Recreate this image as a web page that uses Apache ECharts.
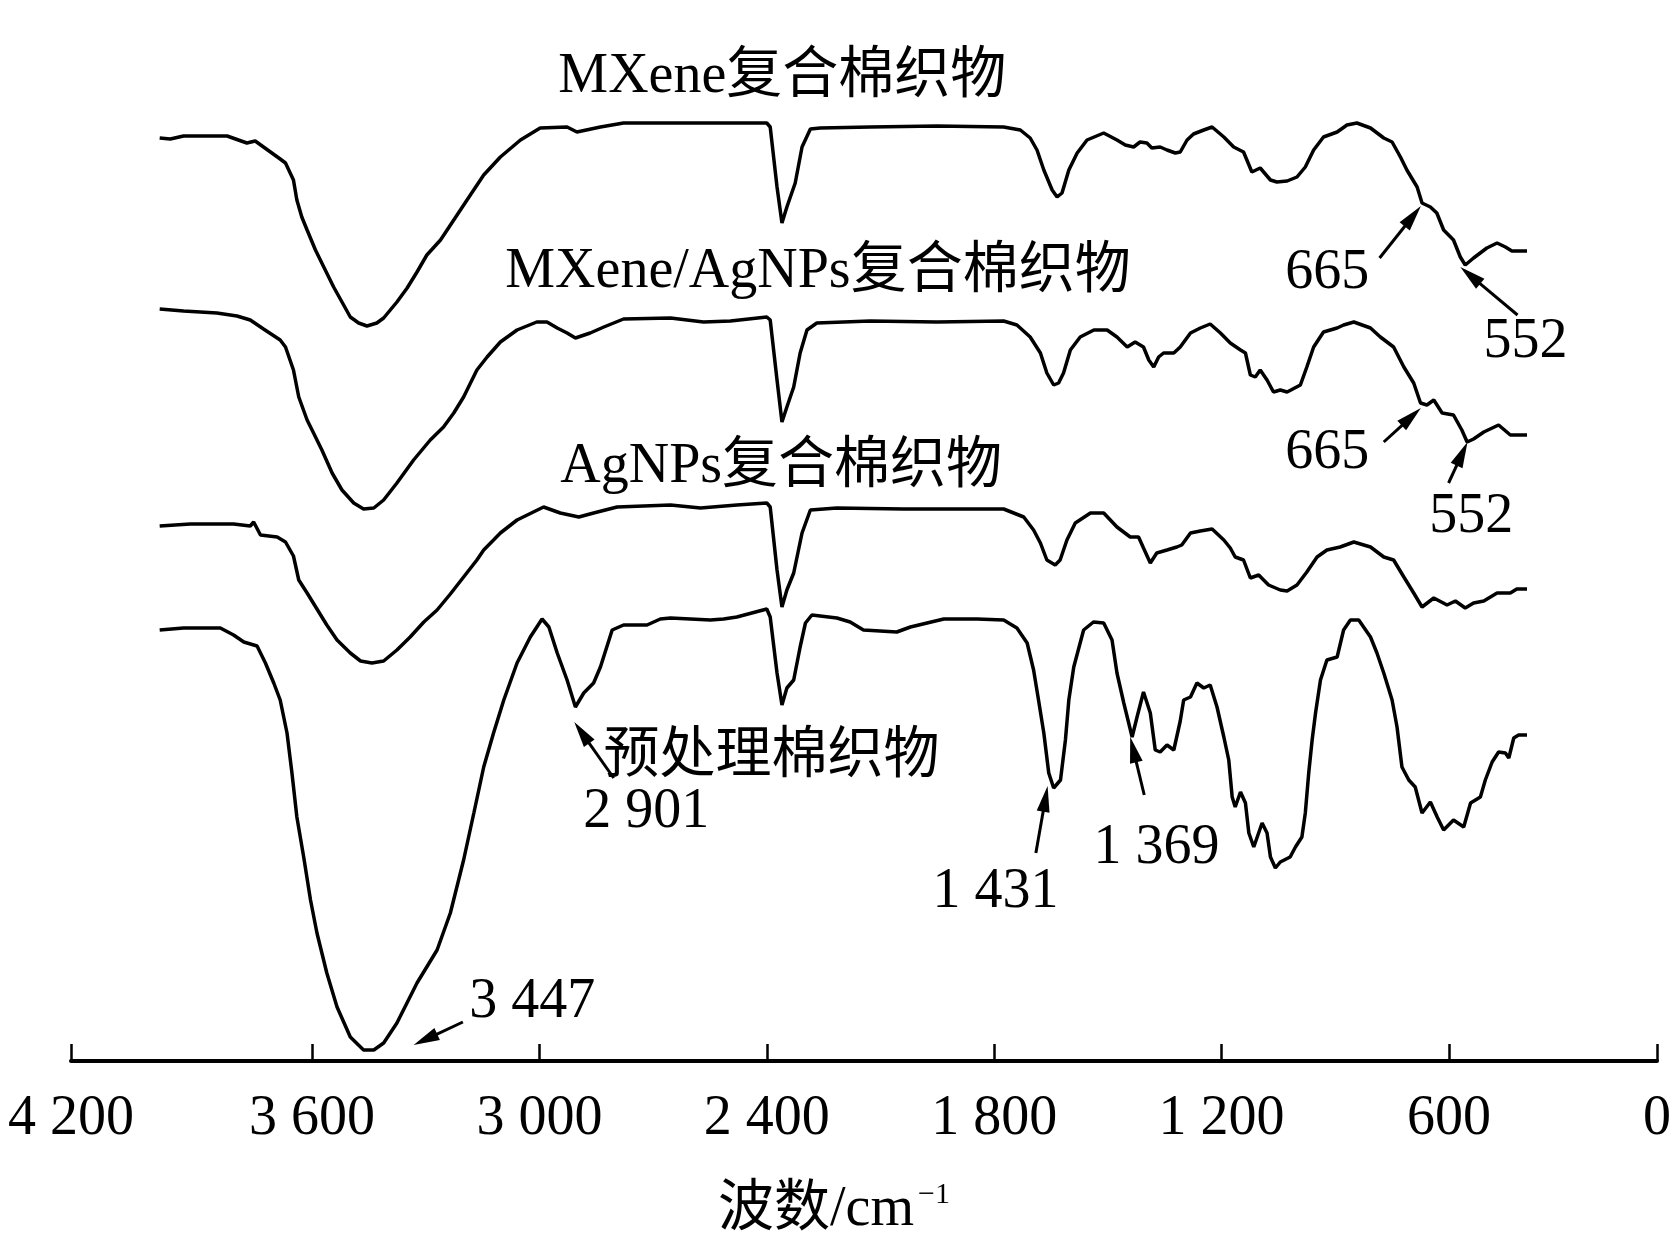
<!DOCTYPE html>
<html>
<head>
<meta charset="utf-8">
<script src="https://cdn.jsdelivr.net/npm/echarts@6.0.0/dist/echarts.min.js"></script>
<style>
html,body{margin:0;padding:0;background:#fff;}
#main{width:1678px;height:1242px;}
</style>
</head>
<body>
<div id="main"></div>
<script>
/* 红外光谱数据 [波数, 相对透过率(偏移后)] */
var mxene = [[4002,92.3],[3974,92.2],[3939,92.5],[3824,92.5],[3772,91.8],[3750,92.0],[3684,90.2],[3670,89.8],[3649,88.1],[3640,86.1],[3627,84.4],[3613,83.1],[3591,81.1],[3569,79.4],[3543,77.4],[3521,75.9],[3499,74.4],[3477,73.8],[3455,73.5],[3429,73.8],[3411,74.3],[3376,75.9],[3349,77.3],[3323,78.9],[3297,80.6],[3261,82.1],[3226,84.1],[3191,86.1],[3147,88.6],[3103,90.4],[3050,92.1],[2998,93.3],[2927,93.4],[2901,92.9],[2839,93.4],[2778,93.8],[2654,93.8],[2400,93.8],[2391,93.4],[2373,87.4],[2360,83.8],[2347,85.4],[2325,87.8],[2307,91.4],[2285,93.2],[2259,93.3],[2127,93.4],[1951,93.5],[1775,93.4],[1731,93.1],[1705,92.3],[1687,91.1],[1669,89.1],[1647,87.1],[1634,86.4],[1621,86.8],[1603,89.1],[1581,90.8],[1555,92.1],[1511,92.8],[1476,92.1],[1454,91.6],[1432,91.4],[1415,91.9],[1397,91.8],[1384,91.3],[1362,91.4],[1344,91.1],[1322,90.8],[1309,90.9],[1291,92.1],[1274,92.7],[1247,93.1],[1225,93.4],[1194,92.4],[1168,91.4],[1142,90.9],[1120,88.9],[1098,89.3],[1071,88.1],[1054,87.9],[1027,88.0],[1001,88.4],[979,89.4],[957,91.1],[931,92.4],[895,92.9],[869,93.6],[843,93.8],[807,93.3],[772,92.3],[750,91.9],[728,90.4],[711,89.1],[684,87.4],[671,85.8],[649,85.4],[632,84.8],[614,83.1],[588,82.1],[570,80.4],[557,79.6],[535,80.3],[500,81.3],[473,81.8],[451,81.4],[434,81.0],[394,81.0]];

var mxeneAg = [[4002,75.2],[3939,75.0],[3851,74.8],[3798,74.5],[3763,74.1],[3728,73.2],[3684,72.1],[3670,71.4],[3649,69.1],[3635,66.4],[3613,64.1],[3596,62.8],[3574,61.1],[3547,58.8],[3521,57.1],[3490,55.8],[3464,55.2],[3437,55.3],[3411,56.1],[3376,57.8],[3332,60.1],[3288,62.1],[3253,63.4],[3226,64.8],[3200,66.4],[3165,69.1],[3138,70.4],[3103,71.9],[3059,73.1],[3007,73.9],[2980,73.9],[2953,73.3],[2927,72.8],[2905,72.3],[2866,72.8],[2830,73.4],[2778,74.2],[2654,74.3],[2567,73.9],[2496,74.0],[2400,74.4],[2391,74.1],[2373,68.1],[2360,63.9],[2347,65.4],[2329,67.4],[2312,70.8],[2294,73.1],[2268,73.8],[2127,74.0],[1951,73.9],[1775,74.0],[1740,73.6],[1705,72.4],[1678,70.8],[1661,68.8],[1643,67.6],[1630,67.8],[1617,68.8],[1599,71.1],[1573,72.4],[1537,73.1],[1502,73.1],[1476,72.4],[1449,71.4],[1428,71.9],[1406,71.4],[1392,70.1],[1379,69.4],[1366,70.4],[1353,70.8],[1326,70.8],[1309,71.4],[1282,72.8],[1256,73.3],[1230,73.7],[1203,72.8],[1177,71.8],[1150,71.1],[1137,70.8],[1124,68.6],[1111,68.4],[1098,69.1],[1080,68.1],[1063,66.9],[1045,67.1],[1027,66.9],[992,67.6],[975,69.4],[957,71.4],[931,72.9],[895,73.3],[878,73.6],[851,73.9],[807,73.3],[781,72.4],[746,71.4],[719,69.4],[693,67.8],[675,65.8],[658,65.6],[640,66.1],[618,64.8],[588,64.6],[566,63.1],[552,61.9],[535,62.2],[508,62.9],[469,63.6],[438,62.6],[394,62.6]];

var agnps = [[4002,53.5],[3921,53.7],[3807,53.7],[3763,53.5],[3754,53.9],[3736,52.6],[3692,52.4],[3670,51.9],[3649,50.5],[3635,48.1],[3613,46.8],[3587,45.2],[3561,43.6],[3534,42.1],[3499,40.8],[3472,40.0],[3442,39.8],[3411,40.0],[3376,41.1],[3341,42.4],[3305,43.9],[3270,45.1],[3235,46.7],[3200,48.4],[3165,50.1],[3147,51.1],[3121,52.1],[3103,52.8],[3059,54.1],[2989,55.4],[2945,54.8],[2896,54.4],[2857,54.8],[2795,55.4],[2725,55.5],[2654,55.6],[2575,55.3],[2479,55.6],[2400,55.8],[2391,55.4],[2373,49.1],[2360,45.4],[2347,47.1],[2329,48.8],[2307,52.8],[2285,55.1],[2215,55.3],[2039,55.2],[1775,55.2],[1722,54.4],[1696,53.1],[1678,51.8],[1661,50.1],[1639,49.6],[1626,50.1],[1608,52.1],[1586,53.8],[1546,54.8],[1511,54.8],[1476,53.4],[1441,52.4],[1419,52.4],[1406,51.3],[1388,49.8],[1371,50.8],[1344,51.1],[1318,51.4],[1305,51.6],[1282,52.8],[1256,53.0],[1225,53.2],[1194,52.1],[1177,51.3],[1164,50.4],[1142,50.1],[1124,48.3],[1102,48.6],[1076,47.6],[1045,47.1],[1027,47.0],[1001,47.6],[975,48.9],[948,50.4],[922,51.1],[887,51.4],[851,51.9],[807,51.4],[772,50.4],[746,50.1],[719,48.4],[693,46.8],[671,45.4],[640,46.3],[605,45.6],[583,46.0],[557,45.3],[535,45.8],[508,46.0],[473,46.8],[438,46.8],[421,47.2],[394,47.2]];

var pretreat = [[4002,43.1],[3939,43.3],[3842,43.3],[3807,42.6],[3780,41.9],[3745,41.5],[3723,39.8],[3701,37.8],[3684,36.1],[3666,32.8],[3653,28.8],[3640,24.4],[3622,20.4],[3604,16.1],[3587,12.8],[3561,8.8],[3534,5.4],[3499,2.4],[3464,1.1],[3437,1.1],[3411,1.8],[3376,3.8],[3323,7.8],[3270,11.1],[3235,14.8],[3200,20.1],[3173,24.8],[3147,29.4],[3121,32.8],[3094,36.1],[3059,39.8],[3024,42.4],[2993,44.2],[2975,43.4],[2953,40.8],[2927,38.1],[2905,35.4],[2883,36.8],[2857,37.8],[2839,39.4],[2808,43.1],[2778,43.6],[2716,43.6],[2681,44.2],[2654,44.3],[2549,44.1],[2514,44.2],[2479,44.4],[2400,45.2],[2391,44.4],[2373,38.8],[2360,35.6],[2347,37.3],[2329,38.1],[2312,41.4],[2298,43.8],[2281,44.6],[2215,44.3],[2180,43.9],[2145,43.1],[2057,42.9],[2021,43.4],[1933,44.2],[1845,44.2],[1775,44.1],[1740,43.3],[1713,41.8],[1696,39.1],[1683,36.1],[1669,32.8],[1656,28.8],[1643,27.3],[1625,28.1],[1612,32.1],[1603,36.1],[1590,39.4],[1564,43.1],[1538,43.9],[1511,43.8],[1489,42.1],[1476,38.8],[1458,35.8],[1436,32.4],[1423,34.4],[1406,36.9],[1388,34.8],[1375,31.1],[1362,30.9],[1344,31.6],[1326,31.1],[1309,34.0],[1300,36.1],[1282,36.4],[1265,37.8],[1247,37.3],[1230,37.6],[1212,35.4],[1194,32.4],[1181,30.1],[1172,26.4],[1164,25.4],[1150,26.9],[1137,25.8],[1128,22.8],[1115,21.4],[1093,23.8],[1080,22.8],[1071,20.4],[1058,19.3],[1045,19.9],[1019,20.4],[1005,21.4],[988,22.4],[979,24.8],[970,28.8],[961,32.1],[952,34.8],[939,38.1],[922,40.1],[895,40.4],[878,43.1],[860,44.1],[838,44.1],[807,42.4],[790,40.8],[772,38.8],[750,36.1],[737,33.4],[724,29.4],[706,28.1],[689,27.4],[671,24.8],[649,25.9],[631,24.4],[614,23.1],[588,24.1],[561,23.4],[543,25.8],[517,26.4],[504,28.1],[486,29.9],[469,30.9],[451,30.8],[442,30.3],[429,32.3],[416,32.6],[394,32.6]];

/* 坐标轴刻度 */
var xTicks = [4236, 3600, 3000, 2400, 1800, 1200, 600, 51];
var xTickLabels = ['4 200', '3 600', '3 000', '2 400', '1 800', '1 200', '600', '0'];

/* 曲线名称及峰位标注: 文字左端锚点 [波数, 值] */
var labelTexts = ['MXene复合棉织物', 'MXene/AgNPs复合棉织物', 'AgNPs复合棉织物', '预处理棉织物',
	'2 901', '3 447', '1 431', '1 369', '665', '552', '665', '552'];
var labelAt = [[2950,98.4],[3090,78.9],[2945,59.4],[2831,30.4],
	[2884,24.9],[3185,5.9],[1963,16.9],[1538,21.3],[1032,78.8],[509,71.9],[1032,60.8],[652,54.4]];
/* 箭头: 起点 -> 指向点 */
var arrowFrom = [[2804,28.3],[3202,3.9],[1690,20.8],[1404,26.6],[783,80.3],[419,74.6],[772,61.9],[601,57.8]];
var arrowTo   = [[2908,33.9],[3332,1.6],[1659,27.5],[1441,32.4],[674,85.5],[570,79.4],[674,65.3],[551,61.9]];

var FONT = '"Liberation Serif", "Noto Sans CJK SC", serif';

var myChart = echarts.init(document.getElementById('main'));

function lineSeries(name, data){
	return {
		name: name,
		type: 'line',
		data: data,
		symbol: 'none',
		smooth: false,
		lineStyle: {color: '#000', width: 3.5},
		z: 3
	};
}

var option = {
	animation: false,
	backgroundColor: '#fff',
	grid: {left: 71, right: 21, top: 61, bottom: 181},
	xAxis: {
		type: 'value',
		min: 51,
		max: 4236,
		inverse: true,
		splitLine: {show: false},
		axisLine: {show: true, lineStyle: {color: '#000', width: 4}},
		axisTick: {show: true, inside: true, length: 17, customValues: xTicks, lineStyle: {color: '#000', width: 2.5}},
		axisLabel: {
			show: true,
			customValues: xTicks,
			margin: 30,
			color: '#000',
			fontSize: 56,
			fontFamily: FONT,
			hideOverlap: false,
			showMinLabel: true,
			showMaxLabel: true,
			formatter: function(v){
				var i = xTicks.indexOf(Math.round(v));
				return i >= 0 ? xTickLabels[i] : '';
			}
		}
	},
	yAxis: {
		type: 'value',
		min: 0,
		max: 100,
		show: false
	},
	series: [
		lineSeries('MXene复合棉织物', mxene),
		lineSeries('MXene/AgNPs复合棉织物', mxeneAg),
		lineSeries('AgNPs复合棉织物', agnps),
		lineSeries('预处理棉织物', pretreat)
	]
};
myChart.setOption(option);

/* 标注文字和箭头 */
function toPx(p){
	return myChart.convertToPixel({gridIndex: 0}, p);
}
function textEl(str, x, y, size){
	return {
		type: 'text', x: x, y: y, z: 10,
		style: {text: str, font: size + 'px ' + FONT, fill: '#000', verticalAlign: 'middle', textVerticalAlign: 'middle', align: 'left'}
	};
}
var els = [];
for(var i = 0; i < labelTexts.length; i++){
	var p = toPx(labelAt[i]);
	els.push(textEl(labelTexts[i], p[0], p[1], 56));
}
for(var k = 0; k < arrowFrom.length; k++){
	var a = toPx(arrowFrom[k]);
	var b = toPx(arrowTo[k]);
	var dx = b[0] - a[0], dy = b[1] - a[1];
	var len = Math.sqrt(dx*dx + dy*dy);
	var ux = dx/len, uy = dy/len;
	var hl = 26, hw = 6.5;
	var bx = b[0] - ux*hl, by = b[1] - uy*hl;
	els.push({type: 'line', z: 10, shape: {x1: a[0], y1: a[1], x2: bx + ux*3, y2: by + uy*3}, style: {stroke: '#000', lineWidth: 3}});
	els.push({type: 'polygon', z: 10, shape: {points: [[b[0], b[1]], [bx - uy*hw, by + ux*hw], [bx + uy*hw, by - ux*hw]]}, style: {fill: '#000'}});
}
/* 横坐标名称 */
els.push(textEl('波数/cm', 718, 1210, 56));
els.push(textEl('−1', 918, 1195, 30));
myChart.setOption({graphic: els});
</script>
</body>
</html>
